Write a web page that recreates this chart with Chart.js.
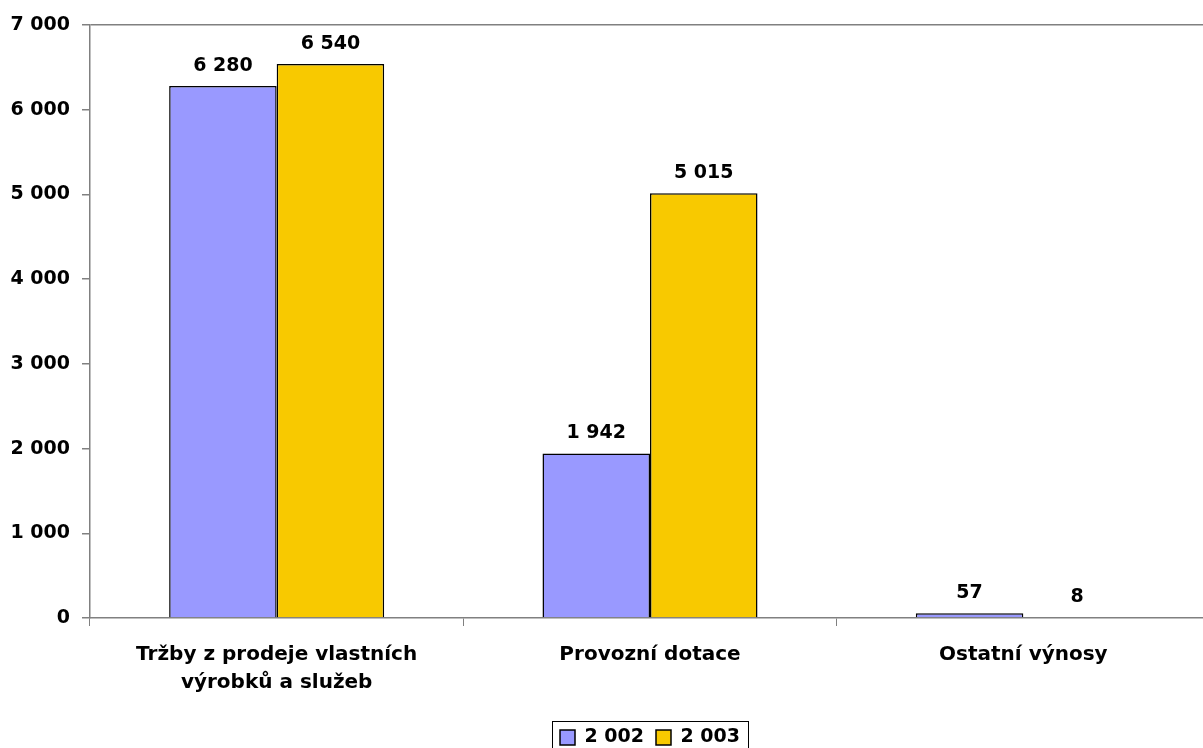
<!DOCTYPE html>
<html>
<head>
<meta charset="utf-8">
<script src="https://cdn.jsdelivr.net/npm/chart.js@4.4.0/dist/chart.umd.min.js"></script>
<style>
  html, body { margin: 0; padding: 0; background: #fff; overflow: hidden; }
  #wrap { width: 1210px; height: 757px; }
</style>
</head>
<body>
<div id="wrap"><canvas id="graf"></canvas></div>
<script>
// data
var kategorie = [["Tržby z prodeje vlastních", "výrobků a služeb"], "Provozní dotace", "Ostatní výnosy"];
var rok2002 = [6280, 1942, 57];
var rok2003 = [6540, 5015, 8];
var nazvyRady = ["2 002", "2 003"];
var osaY = { min: 0, max: 7000, krok: 1000 };

var pismo = "'DejaVu Sans', Arial, sans-serif";
var velikost = 19;

function mezery(n) {
    return String(n).replace(/\B(?=(\d{3})+(?!\d))/g, " ");
}

// hodnoty nad sloupci
var popisky = {
    id: "popisky",
    afterDatasetsDraw: function(chart) {
        var ctx = chart.ctx;
        ctx.save();
        ctx.font = "bold " + velikost + "px " + pismo;
        ctx.fillStyle = "#000";
        ctx.textAlign = "center";
        ctx.textBaseline = "alphabetic";
        chart.data.datasets.forEach(function(ds, i) {
            chart.getDatasetMeta(i).data.forEach(function(bar, j) {
                ctx.fillText(mezery(ds.data[j]), bar.x, bar.y - 15);
            });
        });
        ctx.restore();
    }
};

// ramecek kolem legendy
var ramecek = {
    id: "ramecek",
    afterDraw: function(chart) {
        var boxy = chart.legend.legendHitBoxes;
        if (!boxy || !boxy.length) return;
        var l = Math.min.apply(null, boxy.map(function(b){ return b.left; }));
        var r = Math.max.apply(null, boxy.map(function(b){ return b.left + b.width; }));
        var t = Math.min.apply(null, boxy.map(function(b){ return b.top; }));
        var ctx = chart.ctx;
        ctx.save();
        ctx.strokeStyle = "#000";
        ctx.lineWidth = 1;
        ctx.strokeRect(Math.round(l - 8) + 0.5, Math.round(t - 7) + 0.5, Math.round(r - l + 16), 60);
        ctx.restore();
    }
};

var ctx = document.getElementById("graf").getContext("2d");
var graf = new Chart(ctx, {
    type: "bar",
    data: {
        labels: kategorie,
        datasets: [{
            label: nazvyRady[0],
            data: rok2002,
            backgroundColor: "#9999FF",
            borderColor: "#000",
            borderWidth: 1.5
        }, {
            label: nazvyRady[1],
            data: rok2003,
            backgroundColor: "#F8C900",
            borderColor: "#000",
            borderWidth: 1.5
        }]
    },
    options: {
        responsive: true,
        maintainAspectRatio: false,
        animation: false,
        layout: { padding: { top: 25, right: 0, left: 0, bottom: 0 } },
        datasets: { bar: { barPercentage: 1, categoryPercentage: 0.576 } },
        plugins: {
            tooltip: { enabled: false },
            legend: {
                position: "bottom",
                fullSize: false,
                labels: {
                    color: "#000",
                    font: { family: pismo, size: velikost, weight: "bold" },
                    boxWidth: 15,
                    boxHeight: 15,
                    padding: 12
                }
            }
        },
        scales: {
            x: {
                grid: {
                    offset: true,
                    drawOnChartArea: false,
                    tickLength: 8,
                    tickColor: "#808080"
                },
                border: { color: "#808080", width: 1.5 },
                ticks: {
                    color: "#000",
                    padding: 15,
                    maxRotation: 0,
                    font: { family: pismo, size: 20, weight: "bold", lineHeight: 1.4 }
                },
                afterFit: function(scale) { scale.height = 98; }
            },
            y: {
                min: osaY.min,
                max: osaY.max,
                ticks: {
                    stepSize: osaY.krok,
                    color: "#000",
                    padding: 12,
                    font: { family: pismo, size: velikost, weight: "bold" },
                    callback: function(v) { return mezery(v); }
                },
                grid: {
                    color: function(c) { return c.tick && c.tick.value === osaY.max ? "#808080" : "transparent"; },
                    tickColor: "#808080",
                    tickLength: 8,
                    lineWidth: 1.5
                },
                border: { color: "#808080", width: 1.5 },
                afterFit: function(scale) { scale.width = 90; }
            }
        }
    },
    plugins: [popisky, ramecek]
});
</script>
</body>
</html>
